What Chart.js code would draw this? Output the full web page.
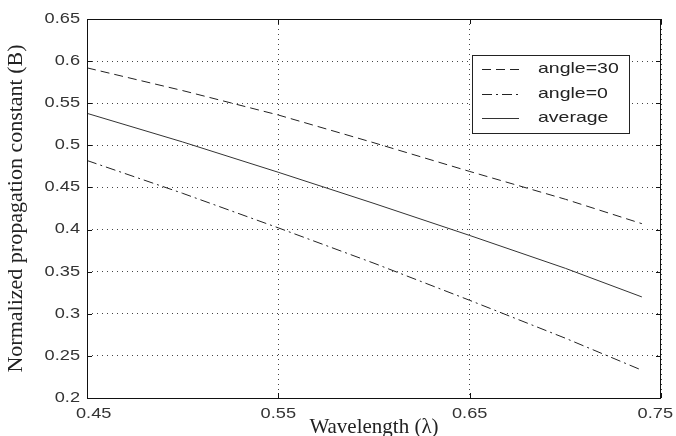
<!DOCTYPE html>
<html>
<head>
<meta charset="utf-8">
<script src="https://cdn.jsdelivr.net/npm/chart.js@4"></script>
<style>
html,body{margin:0;padding:0;background:#fff;}
canvas{display:block;}
</style>
</head>
<body>
<canvas id="c" width="676" height="436"></canvas>
<script>
// ---- data ----
const wavelength = [0.45, 0.50, 0.55, 0.60, 0.65, 0.70, 0.74];
const angle30    = [0.592, 0.565, 0.536, 0.503, 0.469, 0.436, 0.407];
const angle0     = [0.482, 0.443, 0.402, 0.360, 0.316, 0.271, 0.233];
const average    = [0.538, 0.504, 0.468, 0.431, 0.393, 0.354, 0.320];
const seriesLabels = ['angle=30', 'angle=0', 'average'];
const xTicks = [0.45, 0.55, 0.65, 0.75];
const yTicks = [0.2, 0.25, 0.3, 0.35, 0.4, 0.45, 0.5, 0.55, 0.6, 0.65];
const xTitle = 'Wavelength (\u03bb)';
const yTitle = 'Normalized propagation constant (B)';

const pts = arr => arr.map((v, i) => ({x: wavelength[i], y: v}));
const fmt = v => String(+Number(v).toFixed(2));
const SANS = '"Liberation Sans", Arial, sans-serif';
const SERIF = '"Liberation Serif", "Times New Roman", serif';
const STRETCH = 1.3;

const boxPlugin = {
  id: 'boxPlugin',
  afterDatasetsDraw(chart) {
    const {ctx, chartArea: a, scales} = chart;
    ctx.save();
    ctx.strokeStyle = '#111';
    ctx.lineWidth = 1;
    ctx.setLineDash([]);
    ctx.strokeRect(Math.round(a.left) + 0.5, Math.round(a.top) + 0.5,
                   Math.round(a.right - a.left) - 1, Math.round(a.bottom - a.top));
    // inward tick marks
    const tl = 5;
    ctx.beginPath();
    scales.y.ticks.forEach(t => {
      const y = Math.round(scales.y.getPixelForValue(t.value)) + 0.5;
      ctx.moveTo(a.left, y); ctx.lineTo(a.left + tl, y);
      ctx.moveTo(a.right, y); ctx.lineTo(a.right - tl, y);
    });
    scales.x.ticks.forEach(t => {
      const x = Math.round(scales.x.getPixelForValue(t.value)) + 0.5;
      ctx.moveTo(x, a.bottom); ctx.lineTo(x, a.bottom - tl);
      ctx.moveTo(x, a.top); ctx.lineTo(x, a.top + tl);
    });
    ctx.stroke();

    // tick labels (horizontally widened like the reference)
    ctx.font = '14px ' + SANS;
    ctx.fillStyle = '#333';
    ctx.textBaseline = 'middle';
    scales.y.ticks.forEach(t => {
      const y = scales.y.getPixelForValue(t.value);
      ctx.save();
      ctx.translate(a.left - 7, y);
      ctx.scale(STRETCH, 1);
      ctx.textAlign = 'right';
      ctx.fillText(fmt(t.value), 0, 0);
      ctx.restore();
    });
    scales.x.ticks.forEach(t => {
      const txt = fmt(t.value);
      const w = ctx.measureText(txt).width * STRETCH;
      let cx = scales.x.getPixelForValue(t.value);
      if (cx - w / 2 < a.left - 11) cx = a.left - 11 + w / 2;
      if (cx + w / 2 > a.right + 12) cx = a.right + 12 - w / 2;
      ctx.save();
      ctx.translate(cx, a.bottom + 16);
      ctx.scale(STRETCH, 1);
      ctx.textAlign = 'center';
      ctx.fillText(txt, 0, 0);
      ctx.restore();
    });

    // legend box
    const L = 472, T = 55, R = 629, B = 133;
    ctx.fillStyle = '#fff';
    ctx.fillRect(L, T, R - L, B - T);
    ctx.strokeStyle = '#222';
    ctx.strokeRect(L + 0.5, T + 0.5, R - L, B - T);
    const rows = [69, 94, 118];
    chart.data.datasets.forEach((ds, i) => {
      const y = rows[i] + 0.5;
      ctx.beginPath();
      ctx.strokeStyle = ds.borderColor;
      ctx.lineWidth = ds.borderWidth;
      ctx.setLineDash(ds.borderDash || []);
      ctx.moveTo(482, y); ctx.lineTo(519, y);
      ctx.stroke();
      ctx.setLineDash([]);
      ctx.save();
      ctx.translate(538, rows[i]);
      ctx.scale(STRETCH, 1);
      ctx.font = '15px ' + SANS;
      ctx.textBaseline = 'middle';
      ctx.textAlign = 'left';
      ctx.fillStyle = '#222';
      ctx.fillText(ds.label, 0, 0);
      ctx.restore();
    });
    ctx.restore();
  }
};

new Chart(document.getElementById('c'), {
  type: 'line',
  data: {
    datasets: [
      {label: seriesLabels[0], data: pts(angle30), borderColor: '#222', borderWidth: 1,
       borderDash: [9, 5], pointRadius: 0, fill: false, tension: 0},
      {label: seriesLabels[1], data: pts(angle0), borderColor: '#222', borderWidth: 1,
       borderDash: [10, 4, 2, 4], pointRadius: 0, fill: false, tension: 0},
      {label: seriesLabels[2], data: pts(average), borderColor: '#333', borderWidth: 1,
       pointRadius: 0, fill: false, tension: 0}
    ]
  },
  options: {
    responsive: false,
    animation: false,
    events: [],
    layout: {padding: {left: 0, right: 15, top: 19, bottom: 0}},
    plugins: {legend: {display: false}, tooltip: {enabled: false}},
    scales: {
      x: {
        type: 'linear', min: 0.45, max: 0.75,
        afterBuildTicks: s => { s.ticks = xTicks.map(v => ({value: v})); },
        afterFit: s => { s.height = 38; s.paddingLeft = 0; s.paddingRight = 0; },
        border: {display: false, dash: [1, 4]},
        grid: {color: '#444', lineWidth: 1, drawTicks: false},
        ticks: {display: false},
        title: {display: true, text: xTitle, color: '#222',
                font: {family: SERIF, size: 21},
                padding: {top: 0, bottom: -4}}
      },
      y: {
        type: 'linear', min: 0.2, max: 0.65,
        afterBuildTicks: s => { s.ticks = yTicks.map(v => ({value: v})); },
        afterFit: s => { s.width = 87; s.paddingTop = 0; s.paddingBottom = 0; },
        border: {display: false, dash: [1, 4]},
        grid: {color: '#444', lineWidth: 1, drawTicks: false},
        ticks: {display: false},
        title: {display: true, text: yTitle, color: '#222',
                font: {family: SERIF, size: 22},
                padding: {top: 3, bottom: 0}}
      }
    }
  },
  plugins: [boxPlugin]
});
</script>
</body>
</html>
